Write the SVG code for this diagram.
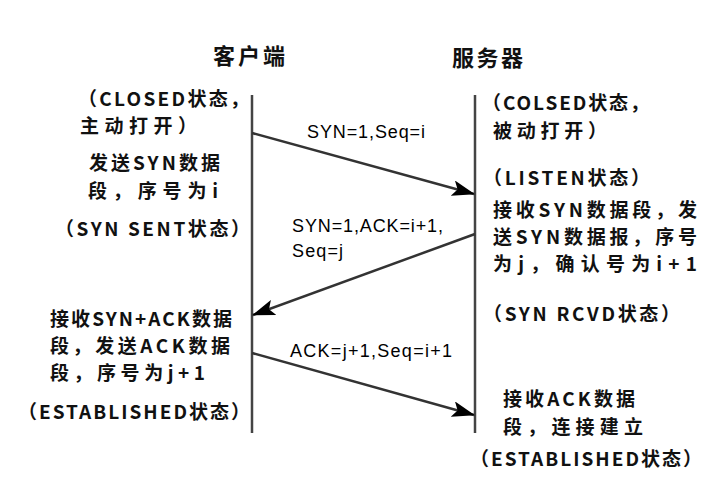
<svg xmlns="http://www.w3.org/2000/svg" width="723" height="487" viewBox="0 0 723 487">
<defs>
<style>
.t{font-family:"Noto Sans CJK SC","Noto Sans",sans-serif;font-size:19px;font-weight:700;fill:#111}
.h{font-family:"Noto Sans CJK SC","Noto Sans",sans-serif;font-size:22px;font-weight:700;fill:#111}
.l{font-family:"Liberation Sans","Noto Sans CJK SC",sans-serif;font-size:18px;fill:#000}
.life{stroke:#444;stroke-width:2.5;fill:none}
.msg{stroke:#333;stroke-width:2.5;fill:none;marker-end:url(#ah)}
</style>
<marker id="ah" markerUnits="userSpaceOnUse" markerWidth="24" markerHeight="16" refX="22" refY="8" orient="auto">
<path d="M0,0 L23,8 L0,16 L5,8 z" fill="#000"/>
</marker>
</defs>
<rect width="723" height="487" fill="#fff"/>
<g id="client">
<text class="h" x="213" y="64" textLength="72">客户端</text>
<line class="life" x1="252" y1="95" x2="252" y2="433"/>
<text class="t" x="78" y="106" textLength="171">（CLOSED状态，</text>
<text class="t" x="80" y="133" textLength="117">主动打开）</text>
<text class="t" x="89" y="170" textLength="131">发送SYN数据</text>
<text class="t" x="88" y="198" textLength="130">段，序号为i</text>
<text class="t" x="55" y="236" textLength="195">（SYN SENT状态）</text>
<text class="t" x="50" y="326" textLength="182">接收SYN+ACK数据</text>
<text class="t" x="50" y="353" textLength="180">段，发送ACK数据</text>
<text class="t" x="50" y="380" textLength="155">段，序号为j+1</text>
<text class="t" x="18" y="419" textLength="232">（ESTABLISHED状态）</text>
</g>
<g id="server">
<text class="h" x="452" y="66" textLength="71">服务器</text>
<line class="life" x1="475" y1="95" x2="475" y2="433"/>
<text class="t" x="482" y="110" textLength="167">（COLSED状态，</text>
<text class="t" x="493" y="138" textLength="114">被动打开）</text>
<text class="t" x="483" y="185" textLength="167">（LISTEN状态）</text>
<text class="t" x="493" y="217" textLength="204">接收SYN数据段，发</text>
<text class="t" x="493" y="244" textLength="204">送SYN数据报，序号</text>
<text class="t" x="493" y="271" textLength="204">为j，确认号为i+1</text>
<text class="t" x="483" y="321" textLength="197">（SYN RCVD状态）</text>
<text class="t" x="503" y="406" textLength="132">接收ACK数据</text>
<text class="t" x="503" y="434" textLength="140">段，连接建立</text>
<text class="t" x="470" y="466" textLength="232">（ESTABLISHED状态）</text>
</g>
<g id="connectors">
<line class="msg" x1="252" y1="133" x2="474" y2="194"/>
<line class="msg" x1="475" y1="234" x2="253" y2="315"/>
<line class="msg" x1="252" y1="353" x2="474" y2="415"/>
<text class="l" x="307" y="138" textLength="118">SYN=1,Seq=i</text>
<text class="l" x="292" y="232" textLength="151">SYN=1,ACK=i+1,</text>
<text class="l" x="292" y="257" textLength="51">Seq=j</text>
<text class="l" x="290" y="357" textLength="162">ACK=j+1,Seq=i+1</text>
</g>
</svg>
